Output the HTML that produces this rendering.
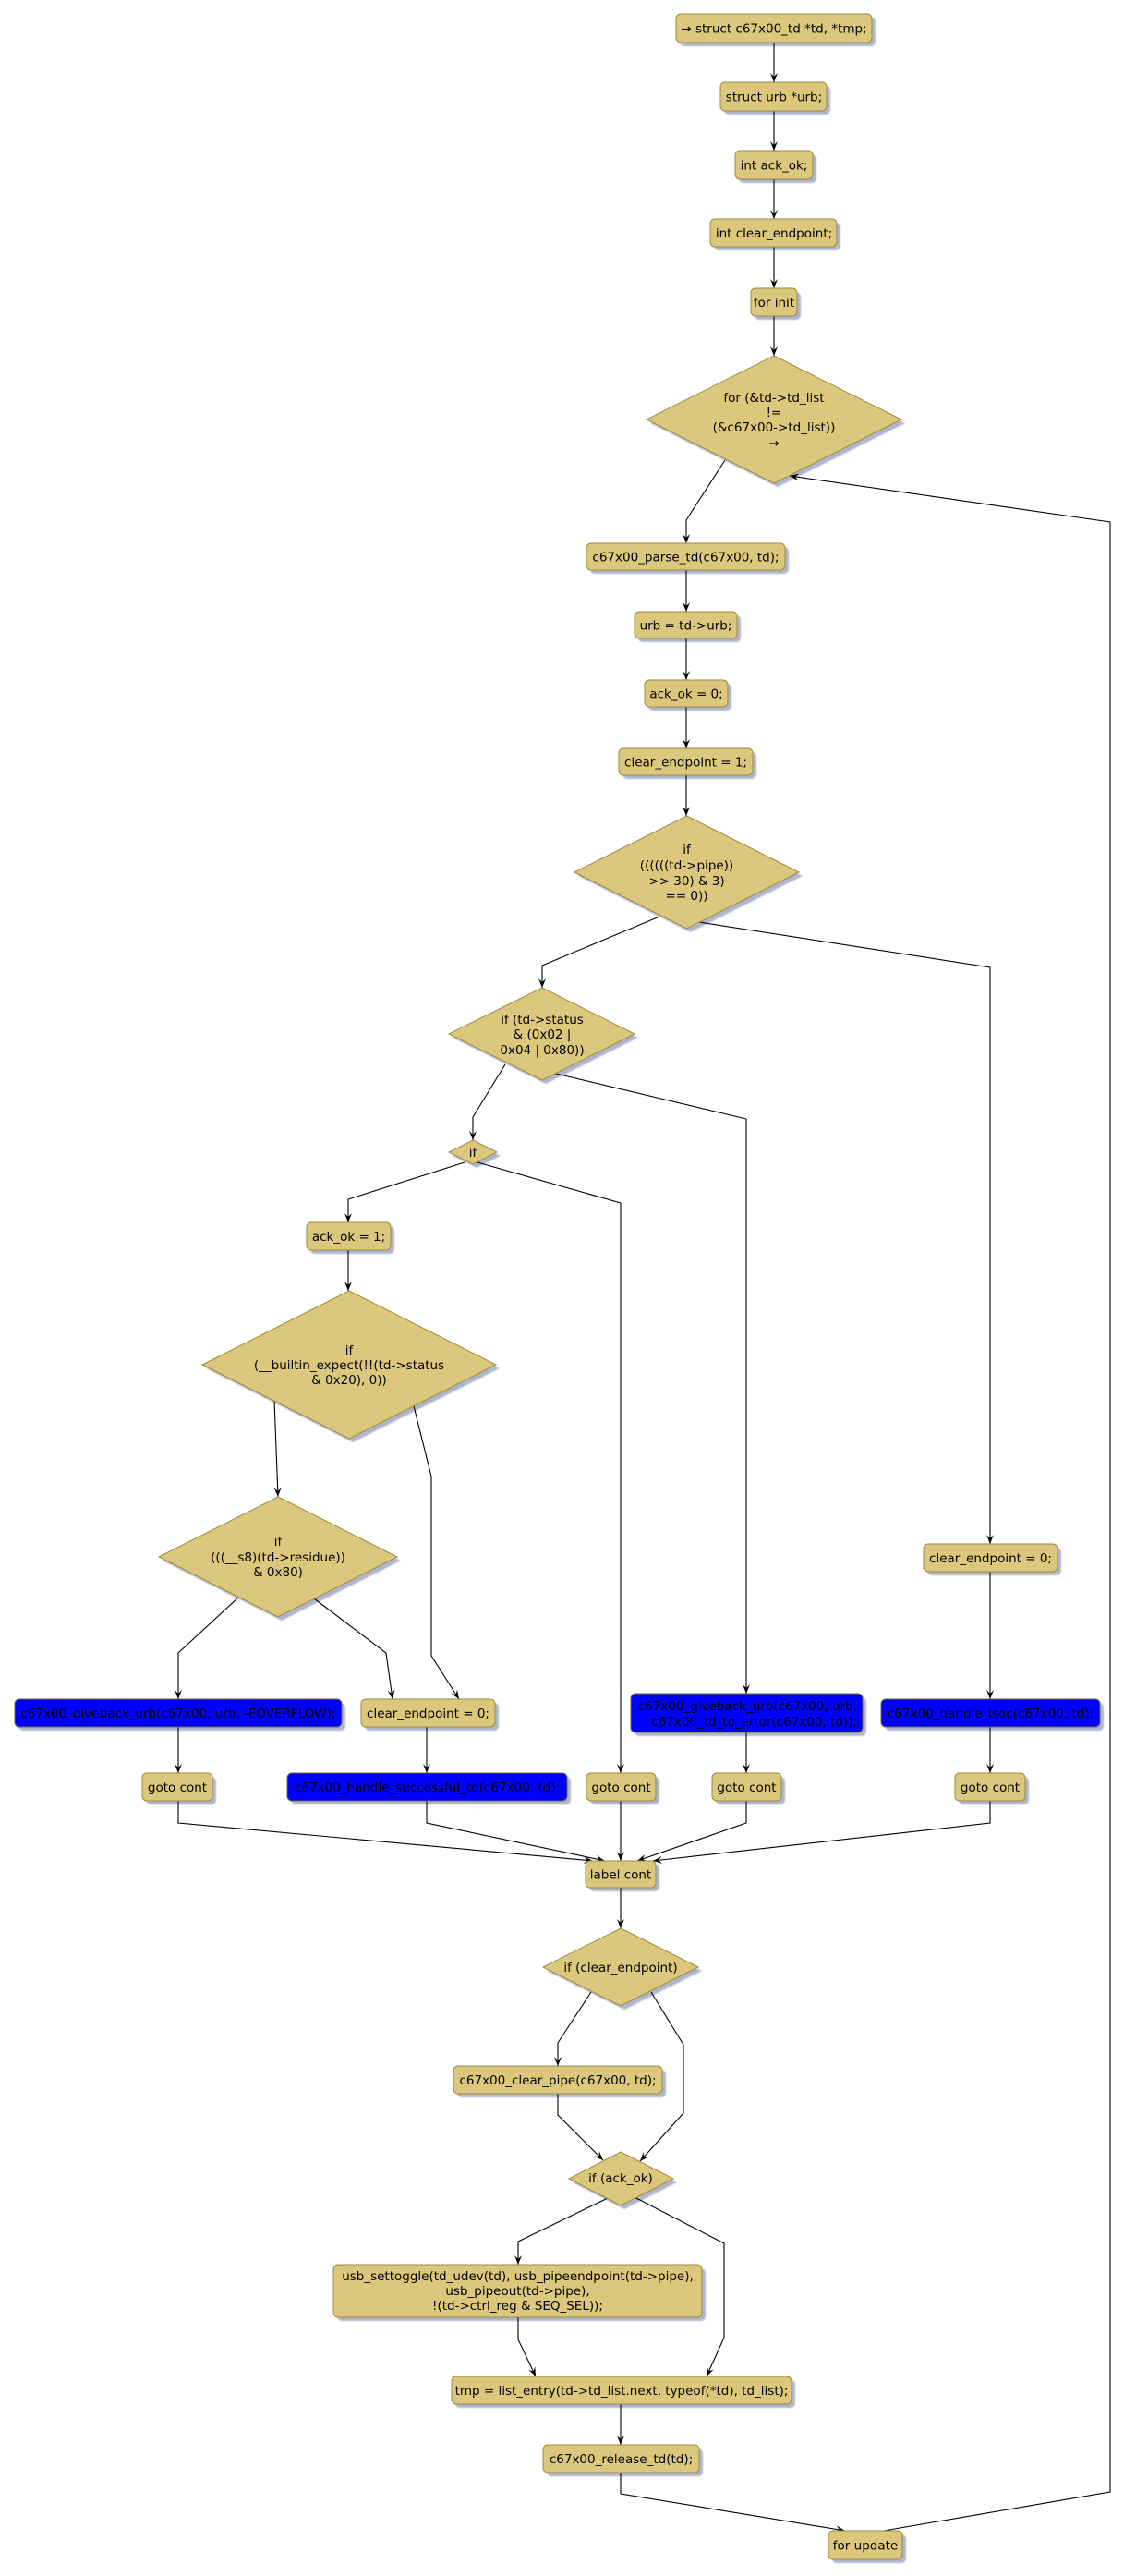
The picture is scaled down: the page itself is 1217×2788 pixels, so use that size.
<!DOCTYPE html>
<html>
<head>
<meta charset="utf-8">
<style>
html,body{margin:0;padding:0;background:#fff;}
svg{display:block;}
text{font-family:"DejaVu Sans","Liberation Sans",sans-serif;font-size:13.5px;fill:#000;}
.b{fill:#DCC87C;stroke:#9E8A3E;stroke-width:1;}
.bl{fill:#0000FF;stroke:#6E6A3E;stroke-width:1;}
.s{fill:#AEB6CE;}
.l{fill:none;stroke:#000;stroke-width:1.1;}
</style>
</head>
<body>
<svg width="1217" height="2788" viewBox="0 0 1217 2788" xmlns="http://www.w3.org/2000/svg">
<defs>
<marker id="a" viewBox="0 0 10 10" refX="10" refY="5" markerWidth="10" markerHeight="10" markerUnits="userSpaceOnUse" orient="auto">
<path d="M0,1 L10,5 L0,9 L4,5 Z" fill="#000"/>
</marker>
<filter id="sh" x="-10%" y="-10%" width="120%" height="120%">
<feGaussianBlur stdDeviation="0.8"/>
</filter>
</defs>

<!-- shadows -->
<g class="s" filter="url(#sh)">
<rect x="736" y="19" width="212" height="31" rx="5"/>
<rect x="784" y="93" width="115" height="31" rx="5"/>
<rect x="800" y="167" width="84" height="31" rx="5"/>
<rect x="773" y="241" width="137" height="30" rx="5"/>
<rect x="817" y="316" width="50" height="30" rx="5"/>
<polygon points="842,389 980,458 842,527 704,458"/>
<rect x="639" y="592" width="215" height="29" rx="5"/>
<rect x="691" y="666" width="111" height="29" rx="5"/>
<rect x="702" y="740" width="90" height="29" rx="5"/>
<rect x="674" y="814" width="145" height="29" rx="5"/>
<polygon points="747.5,887 869,948 747.5,1009 626,948"/>
<polygon points="591,1073 691,1123 591,1173 490,1123"/>
<polygon points="516,1238 542,1251 516,1264 490,1251"/>
<rect x="336" y="1327" width="91" height="30" rx="5"/>
<polygon points="382,1401 541,1481 382,1561 223,1481"/>
<polygon points="305,1624 434,1689 305,1754 176,1689"/>
<rect x="20" y="1843" width="354" height="30" rx="5"/>
<rect x="158" y="1923" width="76" height="30" rx="5"/>
<rect x="395" y="1843" width="145" height="30" rx="5"/>
<rect x="315" y="1923" width="303" height="30" rx="5"/>
<rect x="639" y="1923" width="75" height="30" rx="5"/>
<rect x="687" y="1837" width="251" height="42" rx="5"/>
<rect x="775" y="1923" width="75" height="30" rx="5"/>
<rect x="1004" y="1675" width="145" height="30" rx="5"/>
<rect x="958" y="1843" width="237" height="30" rx="5"/>
<rect x="1038" y="1923" width="76" height="30" rx="5"/>
<rect x="638" y="2018" width="76" height="29" rx="5"/>
<polygon points="676,2091 760,2133 676,2175 592,2133"/>
<rect x="495" y="2240" width="226" height="30" rx="5"/>
<polygon points="676,2333 733,2362 676,2391 620,2362"/>
<rect x="365" y="2455" width="399" height="57" rx="5"/>
<rect x="493" y="2576" width="368" height="30" rx="5"/>
<rect x="592" y="2650" width="169" height="30" rx="5"/>
<rect x="901" y="2743" width="80" height="31" rx="5"/>
</g>

<!-- connectors -->
<g class="l" marker-end="url(#a)">
<polyline points="838,46 838,89"/>
<polyline points="838,120 838,163"/>
<polyline points="838,194 838,237"/>
<polyline points="838,267 838,312"/>
<polyline points="838,342 838,385"/>
<polyline points="785,498 743,563 743,588"/>
<polyline points="743,617 743,662"/>
<polyline points="743,691 743,736"/>
<polyline points="743,765 743,810"/>
<polyline points="743,839 743,883"/>
<polyline points="714,992 587,1045 587,1069"/>
<polyline points="757,998 1072,1047 1072,1671"/>
<polyline points="547,1152 512,1209 512,1234"/>
<polyline points="602,1162 808,1211 808,1833"/>
<polyline points="503,1258 377,1298 377,1323"/>
<polyline points="517,1258 672,1302 672,1919"/>
<polyline points="377,1353 377,1397"/>
<polyline points="297,1515 301,1620"/>
<polyline points="448,1522 467,1598 467,1792 497,1839"/>
<polyline points="259,1728 193,1789 193,1839"/>
<polyline points="340,1730 418,1789 425,1839"/>
<polyline points="193,1869 193,1919"/>
<polyline points="193,1949 193,1973 642,2014"/>
<polyline points="462,1869 462,1919"/>
<polyline points="462,1949 462,1973 655,2014"/>
<polyline points="672,1949 672,2014"/>
<polyline points="808,1875 808,1919"/>
<polyline points="808,1949 808,1973 690,2014"/>
<polyline points="1072,1701 1072,1839"/>
<polyline points="1072,1869 1072,1919"/>
<polyline points="1072,1949 1072,1973 707,2014"/>
<polyline points="672,2043 672,2087"/>
<polyline points="640,2156 604,2211 604,2236"/>
<polyline points="705,2156 740,2213 740,2287 693,2339"/>
<polyline points="604,2266 604,2289 653,2338"/>
<polyline points="658,2379 561,2426 561,2451"/>
<polyline points="687,2378 784,2428 784,2530 765,2572"/>
<polyline points="561,2508 561,2532 580,2572"/>
<polyline points="672,2602 672,2646"/>
<polyline points="672,2676 672,2699 915,2739"/>
<polyline points="957,2739 1202,2697 1202,565 855,515"/>
</g>

<!-- shapes -->
<rect class="b" x="732" y="15" width="212" height="31" rx="5"/>
<rect class="b" x="780" y="89" width="115" height="31" rx="5"/>
<rect class="b" x="796" y="163" width="84" height="31" rx="5"/>
<rect class="b" x="769" y="237" width="137" height="30" rx="5"/>
<rect class="b" x="813" y="312" width="50" height="30" rx="5"/>
<polygon class="b" points="838,385 976,454 838,523 700,454"/>
<rect class="b" x="635" y="588" width="215" height="29" rx="5"/>
<rect class="b" x="687" y="662" width="111" height="29" rx="5"/>
<rect class="b" x="698" y="736" width="90" height="29" rx="5"/>
<rect class="b" x="670" y="810" width="145" height="29" rx="5"/>
<polygon class="b" points="743.5,883 865,944 743.5,1005 622,944"/>
<polygon class="b" points="587,1069 687,1119 587,1169 486,1119"/>
<polygon class="b" points="512,1234 538,1247 512,1260 486,1247"/>
<rect class="b" x="332" y="1323" width="91" height="30" rx="5"/>
<polygon class="b" points="378,1397 537,1477 378,1557 219,1477"/>
<polygon class="b" points="301,1620 430,1685 301,1750 172,1685"/>
<rect class="bl" x="16" y="1839" width="354" height="30" rx="5"/>
<rect class="b" x="154" y="1919" width="76" height="30" rx="5"/>
<rect class="b" x="391" y="1839" width="145" height="30" rx="5"/>
<rect class="bl" x="311" y="1919" width="303" height="30" rx="5"/>
<rect class="b" x="635" y="1919" width="75" height="30" rx="5"/>
<rect class="bl" x="683" y="1833" width="251" height="42" rx="5"/>
<rect class="b" x="771" y="1919" width="75" height="30" rx="5"/>
<rect class="b" x="1000" y="1671" width="145" height="30" rx="5"/>
<rect class="bl" x="954" y="1839" width="237" height="30" rx="5"/>
<rect class="b" x="1034" y="1919" width="76" height="30" rx="5"/>
<rect class="b" x="634" y="2014" width="76" height="29" rx="5"/>
<polygon class="b" points="672,2087 756,2129 672,2171 588,2129"/>
<rect class="b" x="491" y="2236" width="226" height="30" rx="5"/>
<polygon class="b" points="672,2329 729,2358 672,2387 616,2358"/>
<rect class="b" x="361" y="2451" width="399" height="57" rx="5"/>
<rect class="b" x="489" y="2572" width="368" height="30" rx="5"/>
<rect class="b" x="588" y="2646" width="169" height="30" rx="5"/>
<rect class="b" x="897" y="2739" width="80" height="31" rx="5"/>

<!-- labels -->
<g text-anchor="middle">
<text x="838" y="35.5">→ struct c67x00_td *td, *tmp;</text>
<text x="838" y="109.5">struct urb *urb;</text>
<text x="838" y="183.5">int ack_ok;</text>
<text x="838" y="257">int clear_endpoint;</text>
<text x="838" y="332">for init</text>
<text x="838" y="435">for (&amp;td-&gt;td_list</text>
<text x="838" y="451">!=</text>
<text x="838" y="467">(&amp;c67x00-&gt;td_list))</text>
<text x="838" y="484">→</text>
<text x="742.5" y="607.5">c67x00_parse_td(c67x00, td);</text>
<text x="742.5" y="681.5">urb = td-&gt;urb;</text>
<text x="743" y="755.5">ack_ok = 0;</text>
<text x="742.5" y="829.5">clear_endpoint = 1;</text>
<text x="743.5" y="924">if</text>
<text x="743.5" y="941">((((((td-&gt;pipe))</text>
<text x="743.5" y="958">&gt;&gt; 30) &amp; 3)</text>
<text x="743.5" y="974">== 0))</text>
<text x="587" y="1108">if (td-&gt;status</text>
<text x="587" y="1124">&amp; (0x02 |</text>
<text x="587" y="1141">0x04 | 0x80))</text>
<text x="512" y="1252">if</text>
<text x="377.5" y="1343">ack_ok = 1;</text>
<text x="378" y="1466">if</text>
<text x="378" y="1482">(__builtin_expect(!!(td-&gt;status</text>
<text x="378" y="1498">&amp; 0x20), 0))</text>
<text x="301" y="1673">if</text>
<text x="301" y="1690">(((__s8)(td-&gt;residue))</text>
<text x="301" y="1706">&amp; 0x80)</text>
<text x="193" y="1859">c67x00_giveback_urb(c67x00, urb, -EOVERFLOW);</text>
<text x="192" y="1939">goto cont</text>
<text x="463.5" y="1859">clear_endpoint = 0;</text>
<text x="462.5" y="1939">c67x00_handle_successful_td(c67x00, td);</text>
<text x="672.5" y="1939">goto cont</text>
<text x="808.5" y="1939">goto cont</text>
<text x="1072.5" y="1691">clear_endpoint = 0;</text>
<text x="1072.5" y="1859">c67x00_handle_isoc(c67x00, td);</text>
<text x="1072" y="1939">goto cont</text>
<text x="672" y="2033.5">label cont</text>
<text x="672" y="2134">if (clear_endpoint)</text>
<text x="604" y="2256">c67x00_clear_pipe(c67x00, td);</text>
<text x="672" y="2362">if (ack_ok)</text>
<text x="560.5" y="2468">usb_settoggle(td_udev(td), usb_pipeendpoint(td-&gt;pipe),</text>
<text x="560.5" y="2484">usb_pipeout(td-&gt;pipe),</text>
<text x="560.5" y="2500">!(td-&gt;ctrl_reg &amp; SEQ_SEL));</text>
<text x="673" y="2592">tmp = list_entry(td-&gt;td_list.next, typeof(*td), td_list);</text>
<text x="672.5" y="2666">c67x00_release_td(td);</text>
<text x="937" y="2759.5">for update</text>
</g>
<g text-anchor="end">
<text x="928" y="1851">c67x00_giveback_urb(c67x00, urb,</text>
<text x="928" y="1868">c67x00_td_to_error(c67x00, td));</text>
</g>
</svg>
</body>
</html>
